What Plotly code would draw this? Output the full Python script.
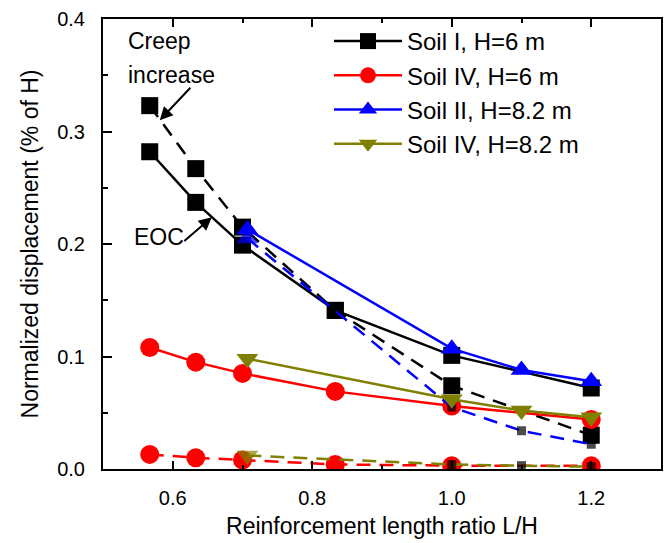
import plotly.graph_objects as go

# ---- data ----
x_h6 = [0.567, 0.633, 0.7, 0.833, 1.0, 1.2]
x_h82 = [0.707, 1.0, 1.1, 1.2]

soil1_h6_eoc = [0.282, 0.237, 0.199, 0.141, 0.101, 0.072]
soil1_h6_creep = [0.323, 0.267, 0.215, 0.141, 0.074, 0.030]
soil4_h6_eoc = [0.108, 0.095, 0.085, 0.069, 0.056, 0.044]
soil4_h6_creep = [0.013, 0.010, 0.008, 0.004, 0.003, 0.003]
soil2_h82_eoc = [0.213, 0.107, 0.088, 0.078]
soil2_h82_creep = [0.205, 0.055, 0.034, 0.022]
soil4_h82_eoc = [0.098, 0.062, 0.052, 0.046]
soil4_h82_creep = [0.012, 0.004, 0.003, 0.002]

series_names = ["Soil I, H=6 m", "Soil IV, H=6 m", "Soil II, H=8.2 m", "Soil IV, H=8.2 m"]
x_tick_vals = [0.6, 0.8, 1.0, 1.2]
y_tick_vals = [0.0, 0.1, 0.2, 0.3, 0.4]

FONT = "Liberation Sans, Arial, sans-serif"
BLACK, RED, BLUE, OLIVE = "#000000", "#FF0000", "#0000FF", "#808000"
DASH = "14px,9px"
LW = 2.5

fig = go.Figure()

def add(x, y, color, symbol, size, dash, name, show, group):
    fig.add_trace(go.Scatter(
        x=x, y=y, mode="lines+markers", name=name, showlegend=show,
        legendgroup=group,
        line=dict(color=color, width=LW, dash=dash),
        marker=dict(symbol=symbol, size=size, color=color, line=dict(width=0)),
    ))

# Soil I, H=6 m
add(x_h6, soil1_h6_eoc, BLACK, "square", 17, "solid", series_names[0], True, "g1")
add(x_h6, soil1_h6_creep, BLACK, "square", 17, DASH, series_names[0], False, "g1")
# Soil IV, H=6 m
add(x_h6, soil4_h6_eoc, RED, "circle", 19, "solid", series_names[1], True, "g2")
add(x_h6, soil4_h6_creep, RED, "circle", 19, DASH, series_names[1], False, "g2")
# Soil II, H=8.2 m
add(x_h82, soil2_h82_eoc, BLUE, "triangle-up", 19, "solid", series_names[2], True, "g3")
fig.add_trace(go.Scatter(
    x=x_h82, y=soil2_h82_creep, mode="lines+markers", showlegend=False, legendgroup="g3",
    name=series_names[2],
    line=dict(color=BLUE, width=LW, dash=DASH),
    marker=dict(symbol=["triangle-up", "square", "square", "square"],
                size=[19, 9, 9, 9], color=[BLUE, BLACK, BLACK, BLACK], line=dict(width=0)),
))
# Soil IV, H=8.2 m
add(x_h82, soil4_h82_eoc, OLIVE, "triangle-down", 19, "solid", series_names[3], True, "g4")
fig.add_trace(go.Scatter(
    x=x_h82, y=soil4_h82_creep, mode="lines+markers", showlegend=False, legendgroup="g4",
    name=series_names[3],
    line=dict(color=OLIVE, width=LW, dash=DASH),
    marker=dict(symbol=["triangle-down", "square", "square", "square"],
                size=[19, 9, 9, 9], color=[OLIVE, BLACK, BLACK, BLACK], line=dict(width=0)),
))

# annotations
fig.add_annotation(x=0.5326, y=0.3806, text="Creep", showarrow=False, xanchor="left",
                   yanchor="middle", font=dict(size=23, color="black", family=FONT))
fig.add_annotation(x=0.5326, y=0.3498, text="increase", showarrow=False, xanchor="left",
                   yanchor="middle", font=dict(size=23, color="black", family=FONT))
fig.add_annotation(x=0.5814, y=0.310, ax=32, ay=-34, text="", showarrow=True,
                   arrowhead=2, arrowsize=1.3, arrowwidth=2, arrowcolor="black")
fig.add_annotation(x=0.58, y=0.2065, text="EOC", showarrow=False, xanchor="center",
                   yanchor="middle", font=dict(size=23, color="black", family=FONT))
fig.add_annotation(x=0.656, y=0.2238, ax=-29, ay=25, text="", showarrow=True,
                   arrowhead=2, arrowsize=1.3, arrowwidth=2, arrowcolor="black")

axis_common = dict(showgrid=False, zeroline=False, showline=True, linecolor="black",
                   linewidth=2, ticks="inside", tickcolor="black", tickwidth=2,
                   tickfont=dict(size=20, family=FONT, color="black"))

fig.update_xaxes(range=[0.5, 1.3], tickvals=x_tick_vals, tickformat=".1f", ticklen=8,
                 mirror="allticks", ticklabelstandoff=10,
                 minor=dict(dtick=0.1, tick0=0.5, ticks="inside", ticklen=4, tickwidth=2,
                            tickcolor="black"),
                 title=dict(text="Reinforcement length ratio L/H", standoff=10,
                            font=dict(size=23, family=FONT, color="black")),
                 **axis_common)
fig.update_yaxes(range=[0, 0.4], tickvals=y_tick_vals, tickformat=".1f", ticklen=9,
                 mirror=True, ticklabelstandoff=12,
                 minor=dict(dtick=0.05, tick0=0, ticks="inside", ticklen=5, tickwidth=2,
                            tickcolor="black"),
                 title=dict(text="Normalized displacement (% of H)", standoff=12,
                            font=dict(size=23, family=FONT, color="black")),
                 **axis_common)

fig.update_layout(
    width=671, height=543,
    margin=dict(l=103, r=8, t=15, b=74),
    paper_bgcolor="white", plot_bgcolor="white",
    font=dict(family=FONT, color="black"),
    legend=dict(x=0.405, y=1.0, xanchor="left", yanchor="top",
                font=dict(size=24, family=FONT, color="black"),
                bgcolor="rgba(0,0,0,0)", tracegroupgap=0, itemwidth=68),
)

fig.write_html("out.html")
